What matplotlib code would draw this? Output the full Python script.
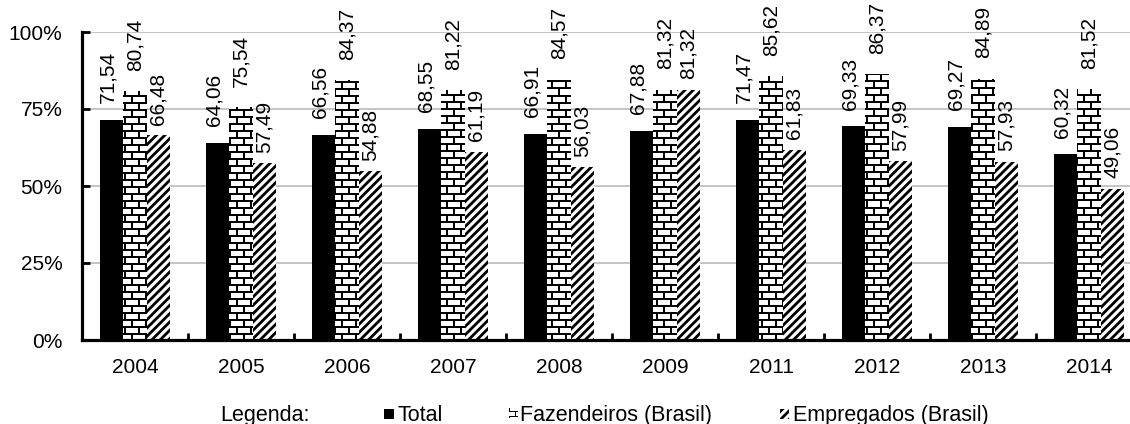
import numpy as np
import matplotlib
matplotlib.use('Agg')
import matplotlib.pyplot as plt
from matplotlib.patches import Rectangle
from matplotlib.ticker import FixedLocator, FuncFormatter

plt.rcParams['font.family'] = ['Liberation Sans', 'DejaVu Sans']
plt.rcParams['hatch.linewidth'] = 2.0

anos = ['2004', '2005', '2006', '2007', '2008', '2009', '2011', '2012', '2013', '2014']
total = [71.54, 64.06, 66.56, 68.55, 66.91, 67.88, 71.47, 69.33, 69.27, 60.32]
fazendeiros = [80.74, 75.54, 84.37, 81.22, 84.57, 81.32, 85.62, 86.37, 84.89, 81.52]
empregados = [66.48, 57.49, 54.88, 61.19, 56.03, 81.32, 61.83, 57.99, 57.93, 49.06]

W, H = 1130, 424
fig = plt.figure(figsize=(W / 100, H / 100), dpi=100)
# eixo em pixels: esquerda 82, base 340, topo 32
ax_l, ax_b, ax_t = 82, 340, 32
ax = fig.add_axes([ax_l / W, (H - ax_b) / H, (W - ax_l) / W, (ax_b - ax_t) / H])

px_cat = 106.0
xmax = -0.5 + (W - ax_l) / px_cat
larg = 0.217
x = np.arange(len(anos))


def tijolos(h, w, alt=7, comp=14, esp=2):
    img = np.ones((h, w))
    yy, xx = np.mgrid[0:h, 0:w]
    img[(yy % alt) < esp] = 0
    desloc = ((yy // alt) % 2) * (comp // 2)
    img[((xx + desloc) % comp) < esp] = 0
    return img


fs = 15
fmt = lambda v: f'{v:.2f}'.replace('.', ',')

b1 = ax.bar(x - larg, total, larg, color='black', linewidth=0, zorder=2)
b2 = ax.bar(x, fazendeiros, larg, color='white', linewidth=0, zorder=2)
b3 = ax.bar(x + larg, empregados, larg, color='white', edgecolor='black',
            linewidth=0, hatch='////', zorder=2)

# textura de tijolos para Fazendeiros
ax_wpx, ax_hpx = W - ax_l, ax_b - ax_t
tex = tijolos(ax_hpx, ax_wpx)
for bar in b2:
    im = ax.imshow(tex, cmap='gray', vmin=0, vmax=1, extent=(-0.5, xmax, 0, 100),
                   aspect='auto', interpolation='nearest', zorder=2.5, origin='upper')
    im.set_clip_path(bar)

for barras, dx, dy in [(b1, -3, 12), (b2, 0, 14.5), (b3, 0, 7.5)]:
    for bar in barras:
        v = bar.get_height()
        ax.annotate(fmt(v), xy=(bar.get_x() + bar.get_width() / 2, v),
                    xytext=(dx, dy), textcoords='offset points', rotation=90,
                    ha='center', va='bottom', fontsize=fs, annotation_clip=False)

ax.set_xlim(-0.5, xmax)
ax.set_ylim(0, 100)
ax.set_xticks(x)
ax.set_xticklabels(anos)
ax.xaxis.set_minor_locator(FixedLocator(np.arange(len(anos)) + 0.5))
ax.tick_params(axis='x', which='major', length=0, pad=13, labelsize=fs)
ax.tick_params(axis='x', which='minor', direction='in', length=5, width=2)
ax.set_yticks([0, 25, 50, 75, 100])
ax.yaxis.set_major_formatter(FuncFormatter(lambda v, p: f'{v:.0f}%'))
ax.tick_params(axis='y', direction='in', length=6, width=2, pad=14, labelsize=fs)
ax.yaxis.grid(True, color='#bfbfbf', linewidth=1.3)
ax.set_axisbelow(True)
for s in ['top', 'right']:
    ax.spines[s].set_visible(False)
for s in ['left', 'bottom']:
    ax.spines[s].set_linewidth(2.3)

# legenda
fl = 15.5
base = H - 421
fig.text(220 / W, base / H, 'Legenda:', fontsize=fl, va='baseline', ha='left')

fig.add_artist(Rectangle((384 / W, (H - 419) / H), 10 / W, 10 / H,
                         transform=fig.transFigure, facecolor='black', linewidth=0))
fig.text(397 / W, base / H, 'Total', fontsize=fl, va='baseline', ha='left')

mini = fig.add_axes([509 / W, (H - 418) / H, 9 / W, 10 / H])
mini.imshow(tijolos(10, 9, alt=4, comp=12, esp=1), cmap='gray', vmin=0, vmax=1,
            interpolation='nearest', aspect='auto')
mini.axis('off')
fig.text(520 / W, base / H, 'Fazendeiros (Brasil)', fontsize=fl, va='baseline', ha='left')

fig.add_artist(Rectangle((780 / W, (H - 419) / H), 9 / W, 10 / H, transform=fig.transFigure,
                         facecolor='white', edgecolor='black', linewidth=0, hatch='////'))
fig.text(793 / W, base / H, 'Empregados (Brasil)', fontsize=fl, va='baseline', ha='left')

fig.savefig('out.png', dpi=100)
